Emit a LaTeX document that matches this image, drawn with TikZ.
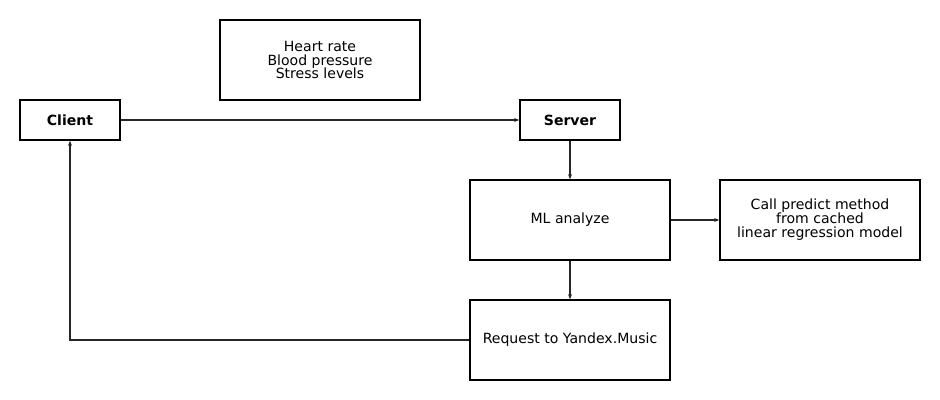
\documentclass[tikz,border=0pt]{standalone}
\usepackage{fontspec}
\setmainfont{DejaVu Sans}
\usepackage{tikz}
\usetikzlibrary{arrows.meta,positioning}

\begin{document}
\begin{tikzpicture}[x=0.025cm,y=-0.025cm]
\tikzset{every node/.style={inner sep=0pt, font=\fontsize{10}{9.9}\selectfont, align=center}}
\tikzset{box/.style={draw=black, line width=1.1pt, minimum width=5cm, minimum height=2cm}}
\tikzset{smallbox/.style={draw=black, line width=1.1pt, minimum width=2.5cm, minimum height=1cm, font=\fontsize{10}{9.9}\selectfont\bfseries}}
\tikzset{link/.style={draw=black!85, line width=0.8pt, -{Stealth[length=3.5pt,width=2.8pt]}}}
\useasboundingbox (0,0) rectangle (940,400);
\node [box] (vitals) at (320,60) {Heart rate\\Blood pressure\\Stress levels};
\node [smallbox] (client) at (70,120) {Client};
\node [smallbox] (server) at (570,120) {Server};
\node [box] (ml) at (570,220) {ML analyze};
\node [box] (predict) at (820,220) {Call predict method\\from cached\\linear regression model};
\node [box] (music) at (570,340) {Request to Yandex.Music};
\coordinate (corner) at (70,340);
\draw [link] (client) -- (server);
\draw [link] (server) -- (ml);
\draw [link] (ml) -- (predict);
\draw [link] (ml) -- (music);
\draw [link] (music) -- (corner) -- (client);
\end{tikzpicture}
\end{document}
